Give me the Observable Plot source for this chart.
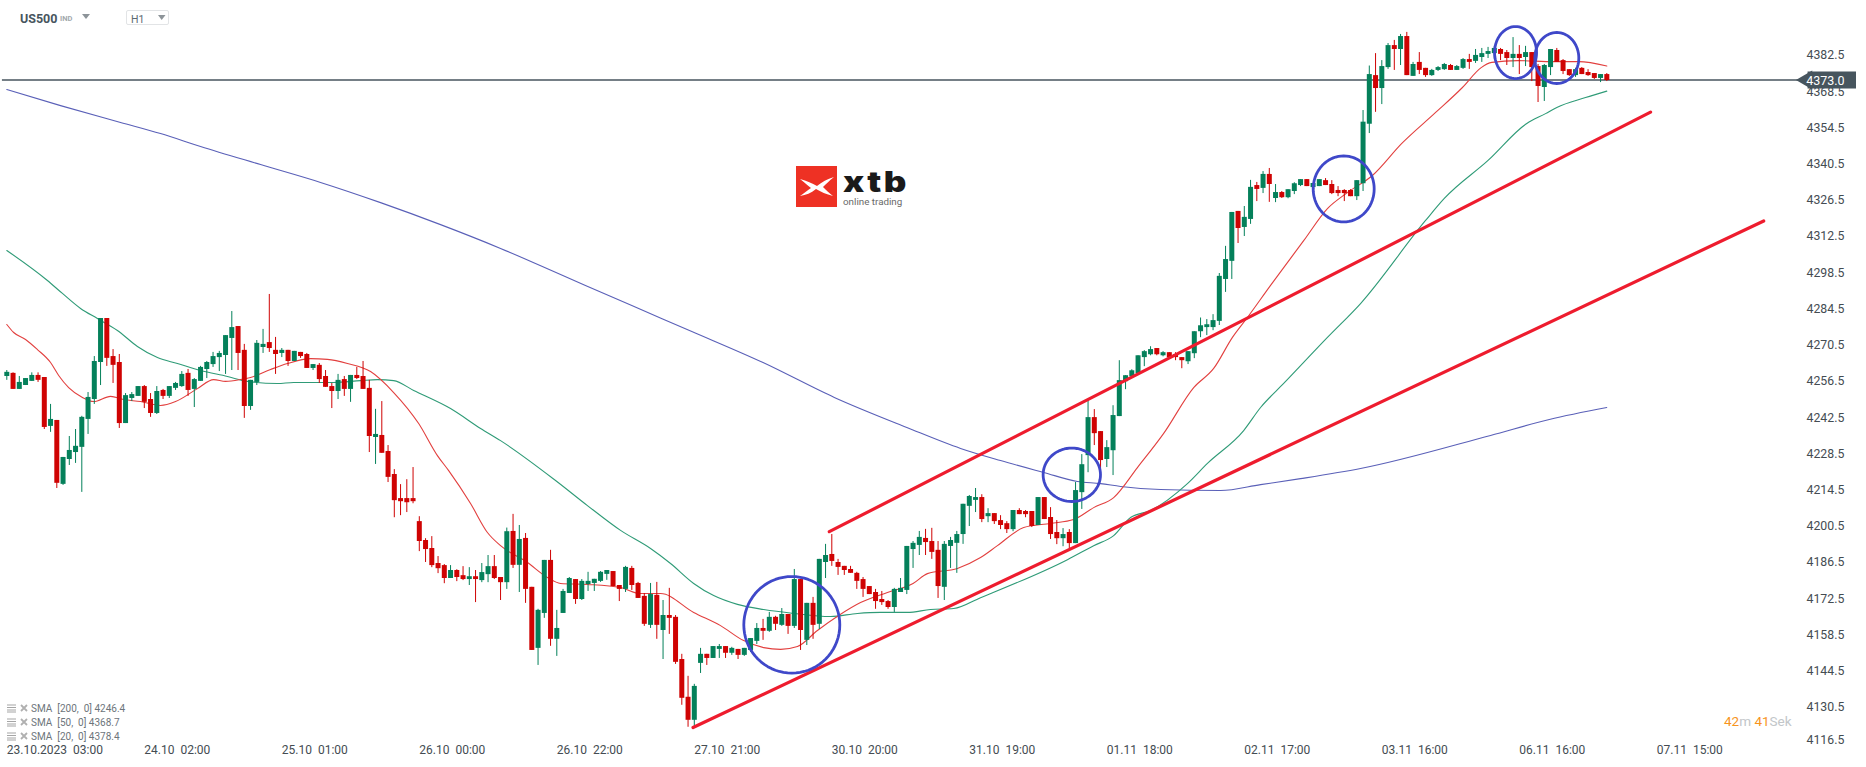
<!DOCTYPE html>
<html><head><meta charset="utf-8">
<script src="https://cdn.jsdelivr.net/npm/d3@7"></script>
<script src="https://cdn.jsdelivr.net/npm/@observablehq/plot@0.6"></script>
<style>
html,body{margin:0;padding:0;background:#fff;overflow:hidden}
#wrap{position:relative;width:1866px;height:767px;font-family:Roboto,sans-serif}
#chart svg{display:block}
.ov{position:absolute;white-space:nowrap;line-height:1}
.lg{position:absolute;left:6px;display:flex;align-items:center;height:12px;font-size:10px;color:#6d757b;white-space:pre}
</style></head><body>
<div id="wrap"><div id="chart"></div>
<div class="ov" style="left:20px;top:13px;font-size:12.5px;font-weight:700;color:#47555e">US500</div>
<div class="ov" style="left:60px;top:15px;font-size:7.5px;font-weight:700;color:#a3a9ad">IND</div>
<svg class="ov" style="left:82px;top:14px" width="9" height="6"><path d="M0 0H8L4 5Z" fill="#8d9499"/></svg>
<div class="ov" style="left:126px;top:10px;width:43px;height:15px;border:1px solid #e2e4e6;border-radius:2px;box-sizing:border-box"></div>
<div class="ov" style="left:131px;top:15px;font-size:10.5px;color:#5d6a73">H1</div>
<svg class="ov" style="left:158px;top:15px" width="8" height="6"><path d="M0 0H7.5L3.7 5Z" fill="#8d9499"/></svg>
<div class="ov" style="left:796px;top:166px;width:41px;height:41px;background:#ee3124"></div>
<svg class="ov" style="left:796px;top:166px" width="41" height="41"><path d="M4 13C11 15 16 17 21 20C26 16 31 13 38 11C33 15 30 18 27 21C30 24 33 27 37 30C30 28 25 26 20 23C15 27 10 29 4 30C8 27 11 25 15 22C11 19 8 16 4 13Z" fill="#fff"/></svg>
<div class="ov" style="left:843px;top:168px;font-family:Inter,sans-serif;font-size:28px;font-weight:900;letter-spacing:2px;color:#1a1a1a;transform:scaleX(1.25);transform-origin:left center">xtb</div>
<div class="ov" style="left:843px;top:197px;font-size:9.8px;color:#6a6a6a">online trading</div>
<div class="lg" style="top:702px"><svg width="25" height="12"><path d="M1 3H10M1 5.5H10M1 8H10M1 10H10" stroke="#a5a5a5" stroke-width="1"/><path d="M15 3L21 9M21 3L15 9" stroke="#b0b0b0" stroke-width="1.8"/></svg>SMA  [200,  0] 4246.4</div>
<div class="lg" style="top:716px"><svg width="25" height="12"><path d="M1 3H10M1 5.5H10M1 8H10M1 10H10" stroke="#a5a5a5" stroke-width="1"/><path d="M15 3L21 9M21 3L15 9" stroke="#b0b0b0" stroke-width="1.8"/></svg>SMA  [50,  0] 4368.7</div>
<div class="lg" style="top:730px"><svg width="25" height="12"><path d="M1 3H10M1 5.5H10M1 8H10M1 10H10" stroke="#a5a5a5" stroke-width="1"/><path d="M15 3L21 9M21 3L15 9" stroke="#b0b0b0" stroke-width="1.8"/></svg>SMA  [20,  0] 4378.4</div>
<div class="ov" style="left:1724px;top:715px;font-size:13.5px;color:#c2c6c9;white-space:pre"><span style="color:#f7941d">42</span>m <span style="color:#f7941d">41</span>Sek</div>
</div>
<script>
const highs=[4260.7,4259.8,4258.4,4257.6,4259.8,4259.8,4258,4247.6,4241.4,4227.1,4235.2,4237.9,4243,4252.2,4266.1,4280.8,4280.8,4268.8,4266.9,4251.8,4252.2,4254.5,4254.9,4251.8,4254.5,4253.4,4254.5,4256.1,4260.3,4261.1,4257.6,4262.3,4264.2,4267.7,4268.1,4274.2,4283.5,4277.7,4270.8,4256.9,4272.3,4276.6,4290.1,4273.5,4269.2,4268.5,4268.1,4267.7,4267.3,4263,4263.4,4260.7,4255.7,4259.2,4258.4,4258.8,4261.9,4264.2,4256.9,4245.7,4248.7,4231.7,4222.4,4216.6,4218.5,4223.2,4204.2,4195.7,4196.5,4188.8,4185.7,4185.3,4183.7,4184.9,4184.5,4183.4,4186.1,4189.2,4189.2,4180.7,4199.8,
4205.1,4200.8,4197.7,4176.9,4168.4,4187.3,4191.2,4168,4176.1,4180.7,4179.9,4179.9,4182.7,4180,4183,4183.4,4183,4177.6,4185,4185,4178.8,4174.5,4178.4,4178.8,4171.8,4176.5,4166,4151,4142.5,4139.4,4153.3,4151,4154,4154.8,4154,4153.7,4152.9,4153.3,4157.1,4162.9,4164.5,4167.2,4165.7,4168.7,4166.4,4183.8,4179.9,4170.7,4173,4187.7,4193.5,4197.3,4187.7,4185,4185,4182.7,4180.7,4177.2,4176.1,4175.3,4171.8,4176.5,4180.3,4192.7,4194.6,4198.5,4199.3,4199.7,4194.6,4194.6,4196.2,4198.5,4209,4212.4,4215.1,
4212.7,4207.3,4205.4,4204.6,4202.3,4206.6,4207.3,4206.6,4206.2,4211.6,4211.6,4207.7,4202.7,4199.6,4199.2,4217.4,4228.2,4249.1,4245.6,4237.1,4233.6,4247.1,4264.5,4258.7,4261,4266.4,4268.4,4269.9,4269.2,4268,4267.6,4267.6,4265.7,4268,4275.7,4281,4280.4,4282.3,4298.2,4308.7,4321.8,4322.2,4324.1,4334.2,4333.4,4337.6,4338.8,4332.6,4329.9,4330.6,4333.3,4334.5,4334.5,4333,4334.5,4334.9,4334.1,4331.8,4330.6,4330.6,4334.1,4361.2,
4378.4,4383.2,4380.5,4387.1,4388.3,4390.6,4391.4,4379.8,4383.6,4377.5,4377.1,4378.2,4379.4,4379,4378.6,4381.3,4382.9,4384.8,4385.2,4385.6,4386,4385.2,4384.4,4389.4,4386.3,4386,4383.6,4379,4379,4384.8,4385.2,4380.9,4377,4377.5,4377.8,4377,4375.5,4375.1,4375.5];
const lows=[4256.9,4253.4,4253.4,4254.9,4256.5,4256.1,4237.9,4236.8,4215.1,4216.3,4224,4224.8,4213.6,4236,4247.6,4254.9,4262.3,4255.7,4238.3,4240.2,4248.7,4250.7,4246,4242.6,4243.7,4249.5,4249.9,4253,4254.2,4250.7,4246.4,4256.5,4257.6,4261.9,4260.3,4259.2,4260.7,4260.7,4242.2,4245.3,4254.9,4267.3,4267.7,4259.2,4265.7,4262.3,4264.2,4265.4,4261.5,4260.7,4255.7,4254.2,4246,4249.5,4250.7,4248.4,4257.2,4253.4,4229,4224.4,4228.7,4217.4,4203.8,4204.6,4205.8,4209.2,4190.7,4186.5,4184.5,4182.2,4178.3,4180.3,4179.1,4179.5,4177.6,4171,4178.7,4178.7,4179.9,4171.8,4176.1,
4184.2,4174.9,4170.7,4152.5,4146.7,4164.9,4154.1,4150.2,4166.8,4174.5,4170.3,4171.8,4175.3,4175.3,4178.8,4179.6,4177.2,4171.4,4174.9,4175.7,4172.6,4161.8,4161,4156.8,4149,4158.7,4147.1,4131.3,4122.8,4123.2,4143.6,4146.7,4149.4,4149.4,4149.4,4150.6,4149,4150.2,4151.7,4154.8,4156.4,4159.5,4160.2,4161.8,4158.7,4161,4152.5,4154.4,4156.8,4160.6,4180.3,4185,4181.5,4181.5,4182.3,4176.1,4173,4174.1,4168.4,4169.9,4168.4,4167.2,4174.9,4174.1,4184.2,4189.2,4189.2,4187.7,4172.6,4171.8,4184.2,4182.3,4193.5,4200.4,4205.8,
4201.9,4201.9,4201.2,4199.2,4197.7,4198.4,4205,4203.8,4200,4200.8,4203.1,4195.4,4193.4,4192.6,4191.9,4193.8,4207,4221.2,4231.7,4222.4,4223.2,4220.1,4242.9,4253.3,4258.3,4259.1,4262.2,4266.4,4266.4,4266,4265.3,4264.5,4261.4,4263,4265.3,4273.4,4274.2,4276.1,4278.1,4290.9,4295.9,4309.8,4312.5,4317.2,4326,4329.1,4325.7,4325.6,4327.2,4327.1,4328.7,4331.8,4331.8,4331,4331.8,4332.2,4328.7,4327.9,4326,4327.9,4326.4,4329.9,
4352.3,4360.5,4363.5,4377.1,4376.7,4378.6,4374.7,4374.4,4375.1,4374,4374.4,4376.3,4376.7,4376.7,4376.7,4377.1,4377.1,4379.4,4379.8,4381.3,4381,4380.5,4378.6,4377.8,4375.1,4378.2,4372.4,4364.3,4364.7,4374.7,4379.8,4375.1,4374.4,4374,4375.1,4374.4,4373.2,4372,4372.4];
const opens=[4258.4,4259.6,4253.4,4254.9,4256.5,4258.8,4258,4239.1,4241.4,4216.7,4226.3,4229,4231,4241.8,4249.5,4263.8,4280.8,4266.1,4263.8,4240.2,4249.9,4250.7,4254.5,4249.5,4244.1,4253,4250.7,4253.8,4254.5,4259.6,4253.4,4256.5,4261.1,4263,4265.7,4266.5,4273.1,4277.7,4268.5,4246.8,4256.1,4269.6,4271.5,4268.5,4267.3,4268.5,4264.2,4267.7,4266.9,4261.5,4262.7,4258.4,4254.5,4252.6,4257.2,4253.4,4258.8,4258.4,4253.8,4234.8,4235.6,4229.4,4220.5,4211.2,4211.2,4211.2,4202.3,4195,4191.9,4186.1,4185.3,4180.3,4183.4,4181.4,4179.9,4181,4179.5,4181.8,4184.9,4180.7,4178.7,
4198.5,4185.4,4195.8,4176.9,4153.3,4166.8,4187.3,4156.8,4166.8,4174.5,4179.9,4172.2,4178,4178.4,4179.2,4181.9,4183,4177.6,4176.1,4184.2,4178.4,4173.4,4162.2,4173.8,4160.2,4166,4165.3,4149,4134.4,4125.5,4147.5,4151,4149.4,4152.9,4154,4151.4,4152.9,4150.6,4152.5,4156,4161,4159.9,4165.3,4162.2,4166.4,4161.8,4179.9,4156.4,4170.7,4162.6,4186.5,4189.6,4186.5,4185,4183.8,4182.3,4179.9,4177.2,4174.9,4172.2,4171.4,4169.1,4174.9,4175.7,4191.5,4193.1,4195.8,4194.6,4191.2,4176.9,4192.7,4193.9,4197.3,4208.2,4210.5,
4211.6,4204.2,4205.4,4202.7,4201.5,4199.2,4206.6,4206.2,4206.2,4200.8,4211.6,4203.9,4198.1,4195.7,4198.1,4193.8,4213.5,4227.8,4242.5,4237.1,4226.3,4229.7,4242.9,4256.4,4258.3,4259.5,4265.7,4266.8,4269.2,4266.4,4267.6,4266.8,4265.7,4264.1,4267.2,4275.7,4277.3,4277.3,4279.7,4295.9,4302.9,4322.2,4316,4319.1,4332.2,4331.1,4336.5,4327.2,4329.5,4327.5,4329.9,4332.2,4334.5,4331.4,4331.8,4334.1,4332.6,4330.3,4330.3,4330.3,4327.9,4332.9,
4355.9,4374.7,4369.7,4377.8,4386.3,4384.8,4389.8,4374.4,4379.8,4377.5,4374.7,4376.7,4377,4378.6,4376.7,4377.5,4380.9,4380.2,4381.7,4382.9,4383.2,4384.8,4383.6,4381.3,4382.9,4381.7,4383.6,4378.2,4370.1,4377.8,4384.4,4380.5,4377,4374.7,4377.5,4375.9,4375.5,4373.6,4375.1];
const closes=[4260,4253.4,4256.1,4257.6,4258.8,4256.9,4238.7,4241.8,4217.1,4227.1,4229.8,4231.4,4242.6,4250.3,4264.2,4280.8,4265.4,4262.7,4240.2,4251,4251.4,4254.5,4248.4,4244.1,4252.6,4250.7,4254.5,4255.7,4259.2,4253,4257.2,4261.9,4263.8,4266.1,4267.3,4274.2,4277.3,4267.3,4246.8,4256.9,4271.2,4270.8,4269.2,4266.9,4268.5,4264.2,4268.1,4266.1,4261.5,4263,4257.2,4254.2,4252.6,4256.9,4253.4,4258.8,4257.6,4253.4,4235.2,4236,4228.7,4219.4,4210.4,4210,4209.6,4210,4194.6,4191.5,4185.3,4184.1,4180.3,4183.4,4180.7,4179.9,4181,4179.9,4182.6,4184.9,4180.3,4178.7,4198.4,
4185.4,4195.4,4176.1,4152.5,4168,4187.3,4156.8,4161,4175.3,4180.3,4172.2,4179.2,4179.2,4180,4182.7,4183.4,4177.2,4176.1,4184.6,4177.6,4172.6,4162.6,4174.1,4162.2,4166,4164.9,4147.9,4134,4125.5,4138.6,4151,4149.4,4154,4154,4151.4,4153.3,4150.6,4153.3,4157.1,4161,4159.9,4165.3,4162.6,4166.4,4161.8,4179.9,4160.2,4170.7,4162.2,4187.7,4189.2,4186.9,4184.6,4183.4,4182.3,4179.2,4176.1,4174.1,4171.4,4171,4169.1,4176.1,4176.5,4192.7,4193.9,4196.2,4194.2,4190.4,4177.2,4193.5,4195,4197.3,4209,4212,4211.6,
4203.1,4205.4,4202.3,4200.8,4199.2,4206.6,4205,4205,4200.4,4211.6,4203.1,4197.3,4195.7,4197.3,4193.8,4214.3,4224.3,4242.5,4236.3,4225.9,4230.9,4243.3,4256.8,4258.7,4260.6,4266.4,4268,4268.8,4266.8,4267.6,4265.7,4265.7,4264.5,4268,4275.7,4278,4278.4,4280,4297.1,4303.6,4321.8,4315.6,4319.9,4331.5,4330.7,4336.5,4332.6,4329.5,4327.5,4330.6,4332.9,4334.5,4331.8,4333,4334.5,4332.2,4329.1,4329.1,4329.1,4327.9,4334.1,4356.7,
4375.1,4369.7,4378.2,4386.3,4384.8,4389.8,4374.7,4379,4376.7,4374.7,4376.7,4377.8,4379,4376.7,4378.2,4380.9,4379.8,4382.5,4383.2,4384,4385.2,4382.9,4381.3,4382.9,4381.3,4383.6,4377.8,4370.5,4378.6,4384.8,4379.8,4376.3,4374.7,4377,4375.1,4374.7,4373.6,4375.1,4372.8];

const sma200Bars=[0,8.6,18.2,24.6,31,40.6,50.2,59.8,69.4,79,88.6,100,109.6,121,132.4,144,152.6,159,165.9,171.3,175,178.2,184.6,194.2,200.6,207,216.6,237.4,246.8,256];
const sma200Values=[4369.3,4363.1,4356.6,4352.3,4347.3,4340.3,4333.4,4325.6,4317.1,4307.9,4297.8,4285.8,4275.8,4263.8,4250.3,4238.7,4230.6,4225.9,4221.3,4217.8,4217,4215.9,4214.7,4214.3,4216.6,4218.9,4222.8,4235.6,4241.8,4246.4];
const sma50Bars=[0,6.5,8.9,11.8,14.5,17.7,20.9,24.1,27.3,31,35.3,38.5,43.3,45.9,52.3,56.6,59.3,61.9,65.1,71,75.8,79,87.8,92.9,98.2,103,106.2,109.9,113.1,116.9,121.1,125.9,131.8,136.1,139.8,144.1,147.8,151.5,155.8,169.7,173.9,177.1,179.8,183,188.9,192.1,197.9,200.6,204.3,211.3,216.6,227,230,237,243.2,246.2,248,252.6,256];
const sma50Values=[4307.1,4295.5,4290.5,4284.7,4280.8,4276.2,4270,4265.7,4263.4,4260.7,4258.4,4256.5,4255.7,4256.1,4256.1,4256.8,4257.2,4256.8,4253,4246,4238.3,4233.6,4218.2,4208.5,4198.9,4191.9,4186.1,4178.4,4173.7,4170.3,4168.3,4166.8,4165.6,4166.8,4167.2,4167.2,4168.3,4168.7,4172.9,4187.6,4193,4196.9,4203.9,4206.6,4217,4224.8,4237.5,4246.4,4255.7,4273.5,4286.6,4318.7,4327.2,4341.9,4356.2,4360,4362.4,4366.2,4368.7];
const sma20Bars=[0,1.1,3,4.9,7,8.3,9.9,12.1,13.9,16.6,18.7,21.4,24.6,27,30.5,33.1,35,37.4,39,42.2,44.9,48.6,51.3,54.5,58.2,61.9,65.9,68.9,70.7,74.2,76.9,79,83.3,86.5,88.6,92.9,98.2,101.4,104.6,109.9,114.2,117.9,121.1,123.8,126.5,129.7,133.1,136.6,140.9,145,147.3,152.1,155.8,158.5,162.7,167,170.7,173.9,177.1,180.9,185.1,189.9,193.1,196.1,198.5,202.2,207.5,211.3,214.5,218.5,223.2,228.4,232.9,235.9,237.6,241.7,247.5,251.5,256];
const sma20Values=[4278.5,4275.4,4272.7,4268.8,4263.8,4258.8,4254.1,4250.3,4248.7,4250.7,4249.5,4248.7,4247.2,4248.7,4253.7,4257.2,4256.5,4257.2,4258,4261.1,4263.4,4265.3,4265,4263.4,4260.3,4252.2,4240.2,4227.8,4222,4209.3,4198.1,4193,4186.5,4180.7,4178.4,4178,4176.8,4174.5,4174.5,4167.2,4162.1,4156.3,4153.6,4152.9,4154,4160.2,4166,4171,4174.9,4178.4,4182.2,4184.2,4188.4,4193,4200,4201.6,4203.1,4207.7,4211.6,4223.2,4236.4,4254.1,4261.5,4273.5,4281.2,4293.6,4310.9,4323.3,4329.5,4336.1,4348.5,4360,4370.1,4377.8,4379.8,4380.5,4380.1,4380.1,4378.4];

const priceTicks=[4382.5,4368.5,4354.5,4340.5,4326.5,4312.5,4298.5,4284.5,4270.5,4256.5,4242.5,4228.5,4214.5,4200.5,4186.5,4172.5,4158.5,4144.5,4130.5];
const lastTick=[4116.5];
const timeLabels=["23.10.2023\u00a0\u00a003:00","24.10\u00a0\u00a002:00","25.10\u00a0\u00a001:00","26.10\u00a0\u00a000:00","26.10\u00a0\u00a022:00","27.10\u00a0\u00a021:00","30.10\u00a0\u00a020:00","31.10\u00a0\u00a019:00","01.11\u00a0\u00a018:00","02.11\u00a0\u00a017:00","03.11\u00a0\u00a016:00","06.11\u00a0\u00a016:00","07.11\u00a0\u00a015:00"];
const barsPerLabel=22;
const lastPrice=4373;
const channelBars=[[109.8,281.1],[131.6,263]];
const channelPrices=[[4122.7,4318.5],[4198.4,4360.6]];
const ringBars=[125.6,170.4,213.9,241.4,248];
const ringPrices=[4162.4,4220.4,4330.9,4383.6,4381.5];
const ringBarRadius=[7.68,4.59,4.88,3.36,3.52];
const ringPriceRadius=[18.67,10.32,12.76,10.05,9.86];

const candles=highs.map((h,i)=>({i,h,l:lows[i],o:opens[i],c:closes[i]}));
const colorOf=d=>d.c>=d.o?"#04805a":"#cf0303";
const zipLine=(xs,ys)=>xs.map((x,k)=>({x,y:ys[k]}));
const rings=ringBars.map((b,k)=>d3.range(0,73).map(t=>{const a=t/72*2*Math.PI;return {x:b+ringBarRadius[k]*Math.cos(a),y:ringPrices[k]+ringPriceRadius[k]*Math.sin(a),k};})).flat();
const channels=channelBars.map((b,k)=>[{x:b[0],y:channelPrices[k][0],k},{x:b[1],y:channelPrices[k][1],k}]).flat();
const timeTicks=timeLabels.map((_,k)=>k*barsPerLabel);
const tickColor="#444c52";

const plot=Plot.plot({
  width:1866,height:767,marginLeft:0,marginTop:0,marginRight:64,marginBottom:30,
  style:{fontFamily:"Roboto,sans-serif",background:"transparent"},
  x:{domain:[-1.008,287.31],range:[0,1802]},
  y:{domain:[4118.85,4403.73],range:[737,0]},
  marks:[
    Plot.ruleY([lastPrice],{stroke:"#47555e",strokeWidth:1.3,x1:-0.7,x2:288}),
    Plot.line(zipLine(sma200Bars,sma200Values),{x:"x",y:"y",stroke:"#5a60b8",strokeWidth:1.1,curve:"monotone-x"}),
    Plot.line(zipLine(sma50Bars,sma50Values),{x:"x",y:"y",stroke:"#2f9b77",strokeWidth:1.1,curve:"monotone-x"}),
    Plot.line(zipLine(sma20Bars,sma20Values),{x:"x",y:"y",stroke:"#e2403f",strokeWidth:1.1,curve:"monotone-x"}),
    Plot.ruleX(candles,{x:"i",y1:"l",y2:"h",stroke:colorOf,strokeWidth:1}),
    Plot.ruleX(candles,{x:"i",y1:"o",y2:"c",stroke:colorOf,strokeWidth:5}),
    Plot.line(channels,{x:"x",y:"y",z:"k",stroke:"#ee1c2e",strokeWidth:3.2}),
    Plot.line(rings,{x:"x",y:"y",z:"k",stroke:"#3f48c9",strokeWidth:2.8}),
    Plot.axisY(priceTicks,{anchor:"right",tickSize:0,tickPadding:4,tickFormat:d=>d.toFixed(1),label:null,fontSize:12.3,color:tickColor}),
    Plot.axisY(lastTick,{anchor:"right",tickSize:0,tickPadding:4,tickFormat:d=>d.toFixed(1),label:null,fontSize:12.3,dy:-4,color:tickColor}),
    Plot.axisX(timeTicks,{anchor:"bottom",tickSize:0,tickPadding:8,tickFormat:d=>timeLabels[d/barsPerLabel],textAnchor:"start",label:null,fontSize:12,color:tickColor}),
    Plot.ruleY([lastPrice],{x1:288.2,x2:295.95,stroke:"#47555e",strokeWidth:17}),
    Plot.dot([lastPrice],{x:()=>288,y:d=>d,symbol:"triangle",r:7,rotate:-90,fill:"#47555e"}),
    Plot.text([lastPrice],{x:()=>287.9,y:d=>d,text:d=>d.toFixed(1),fill:"#fff",textAnchor:"start",fontSize:12.5,dy:1})
  ]
});
document.getElementById("chart").appendChild(plot);
</script>
</body></html>
